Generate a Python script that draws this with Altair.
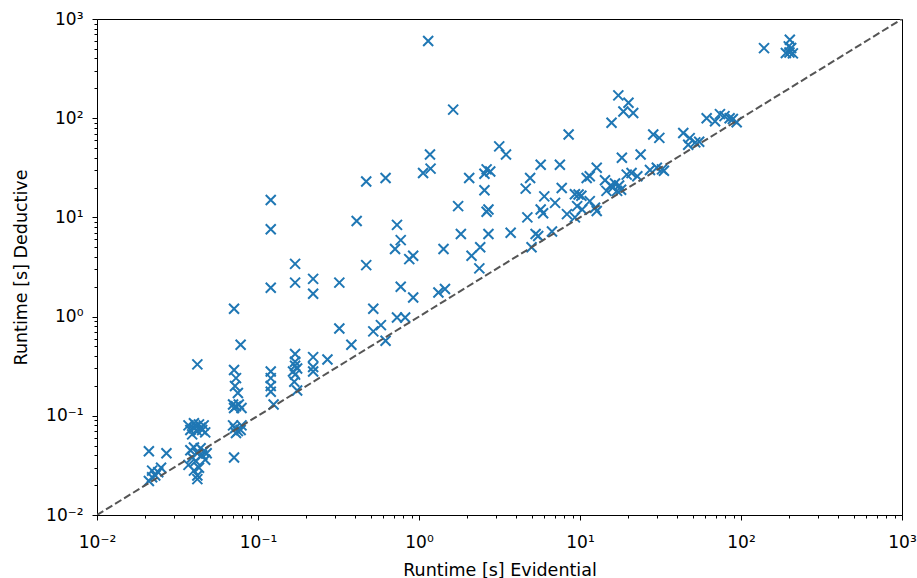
import altair as alt
import pandas as pd

# Evidential runtime (x) and deductive runtime (y), in seconds
ev = [
    0.021, 0.027, 0.022, 0.024, 0.023, 0.021, 0.025, 0.022,
    0.037, 0.038, 0.040, 0.042, 0.045, 0.047, 0.039, 0.043, 0.040, 0.046, 0.041, 0.044,
    0.038, 0.040, 0.042, 0.039, 0.041, 0.037, 0.043, 0.040, 0.042, 0.042, 0.045, 0.046, 0.047, 0.048, 0.044,
    0.042,
    0.071, 0.078, 0.071, 0.073, 0.072, 0.075, 0.070, 0.073, 0.076, 0.079, 0.071, 0.070, 0.072, 0.075, 0.078, 0.073, 0.071, 0.079,
    0.12, 0.12, 0.12, 0.12, 0.12, 0.12, 0.12, 0.125,
    0.17, 0.17, 0.17, 0.17, 0.175, 0.17, 0.168, 0.175, 0.17, 0.165,
    0.22, 0.22, 0.22, 0.22, 0.22,
    0.27, 0.32, 0.32, 0.38, 0.41, 0.47, 0.47, 0.52, 0.52, 0.58, 0.62, 0.62, 0.71, 0.73, 0.77, 0.77, 0.73, 0.82, 0.87, 0.92, 0.92,
    1.06, 1.18, 1.17, 1.14, 1.32, 1.45, 1.42, 1.63, 1.75, 1.82, 2.05, 2.12, 2.4, 2.37, 2.55, 2.63, 2.77, 2.55, 2.63, 2.7, 2.7, 3.15, 3.47, 3.71,
    4.6, 4.9, 5.0, 4.71, 5.3, 5.5, 5.7, 5.9, 6.0, 6.7, 7.0, 7.7, 7.5, 8.3, 8.5, 9.3, 9.3, 9.8, 10.2, 9.6, 10.3, 5.7,
    11, 11.5, 12.7, 14.3, 15.5, 16.5, 17.5, 14.6, 17, 11.5, 12.4, 12.7, 17.3, 20, 18.6, 21.4, 15.7, 18.2, 23.8, 20.9, 22.7, 19.5,
    28.5, 31.1, 30, 32.3, 27.2, 33.2, 16, 18,
    43.8, 48, 52, 47, 61.2, 69, 74, 79, 85, 89, 94, 55,
    139, 201, 198, 205, 190, 200, 210,
]
de = [
    0.044, 0.042, 0.028, 0.027, 0.025, 0.022, 0.030, 0.024,
    0.080, 0.072, 0.075, 0.070, 0.072, 0.068, 0.065, 0.082, 0.084, 0.080, 0.078, 0.076,
    0.045, 0.048, 0.042, 0.038, 0.035, 0.032, 0.030, 0.028, 0.025, 0.023, 0.040, 0.044, 0.036, 0.042, 0.047,
    0.33,
    1.2, 0.52, 0.29, 0.24, 0.20, 0.17, 0.13, 0.125, 0.13, 0.12, 0.12, 0.080, 0.075, 0.070, 0.072, 0.067, 0.038, 0.080,
    15, 7.6, 1.95, 0.28, 0.24, 0.20, 0.175, 0.13,
    3.4, 2.2, 0.42, 0.35, 0.30, 0.26, 0.22, 0.18, 0.32, 0.28,
    2.4, 1.7, 0.39, 0.31, 0.28,
    0.37, 2.2, 0.76, 0.52, 9.2, 23, 3.3, 1.2, 0.71, 0.82, 0.57, 25, 4.8, 8.4, 5.9, 2.0, 0.98, 0.98, 3.8, 4.1, 1.56,
    28, 31, 43, 600, 1.75, 1.9, 4.8, 122, 13, 6.8, 25, 4.1, 5, 3.06, 27.5, 30.5, 29, 18.8, 11.4, 12, 6.8, 52, 43, 7,
    19.5, 25, 5, 10, 6.8, 6.5, 34, 11, 16.3, 7.2, 14, 19.8, 34, 10.8, 68.6, 10, 17.1, 17, 16.5, 13, 12, 12,
    25, 26, 31.7, 23.7, 21, 22, 21, 18.5, 18.5, 14.6, 12.5, 11.6, 170, 143, 117, 113, 90, 40, 43, 28, 26, 27,
    68.6, 63.4, 31.7, 30.5, 30, 29.5, 20, 19,
    71, 63, 57, 54, 100, 93, 110, 105, 100, 98, 91, 58,
    509, 618, 530, 510, 455, 460, 450,
]
diag = [0.01, 1000]

pts = pd.DataFrame({"ev": ev, "de": de})
line_df = pd.DataFrame({"ev": diag, "de": diag})

ticks = [m * 10.0 ** k for k in range(-2, 3) for m in range(1, 10)] + [1000.0]
dec = "abs(log(datum.value)/LN10 - round(log(datum.value)/LN10)) < 1e-6"
e = "round(log(datum.value)/LN10)"
lab = (f"{dec} ? ({e} == -2 ? '10⁻²' : {e} == -1 ? '10⁻¹' : {e} == 0 ? '10⁰' : "
       f"{e} == 1 ? '10¹' : {e} == 2 ? '10²' : '10³') : ''")
tsize = {"condition": {"test": dec, "value": 5}, "value": 3}

font = "DejaVu Sans"
xscale = alt.Scale(type="log", domain=[0.01, 1000], nice=False)
yscale = alt.Scale(type="log", domain=[0.01, 1000], nice=False)

xaxis = alt.Axis(values=ticks, labelExpr=lab, tickSize=tsize, grid=False,
                 labelOverlap=False, labelFlush=False, title="Runtime [s] Evidential",
                 labelPadding=14, titleY=60, titleBaseline="alphabetic")
yaxis = alt.Axis(values=ticks, labelExpr=lab, tickSize=tsize, grid=False,
                 labelOverlap=False, labelFlush=False, title="Runtime [s] Deductive",
                 labelPadding=9, titleX=-71, titleY=248, titleAngle=270,
                 titleAlign="center", titleBaseline="alphabetic")

xpath = "M-1,-1L1,1M-1,1L1,-1"

points = alt.Chart(pts).mark_point(
    shape=xpath, filled=False, color="#1f77b4", strokeWidth=2, size=100, opacity=1
).encode(
    x=alt.X("ev:Q", scale=xscale, axis=xaxis),
    y=alt.Y("de:Q", scale=yscale, axis=yaxis),
)

diag_line = alt.Chart(line_df).mark_line(
    color="#555555", strokeDash=[7.4, 3.2], strokeWidth=2, clip=True
).encode(
    x=alt.X("ev:Q", scale=xscale),
    y=alt.Y("de:Q", scale=yscale),
)

chart = alt.layer(points, diag_line).properties(
    width=805, height=496,
    autosize=alt.AutoSizeParams(type="none"),
    padding={"left": 97, "top": 19, "right": 15, "bottom": 63},
    background="white",
).configure_view(
    stroke="black", strokeWidth=1
).configure_axis(
    domainColor="black", domainWidth=1, tickColor="black", tickWidth=1,
    labelColor="black", labelFont=font, labelFontSize=17,
    titleColor="black", titleFont=font, titleFontSize=17.5, titleFontWeight="normal",
)

chart.save("out.html", embed_options={"renderer": "svg", "actions": False})
